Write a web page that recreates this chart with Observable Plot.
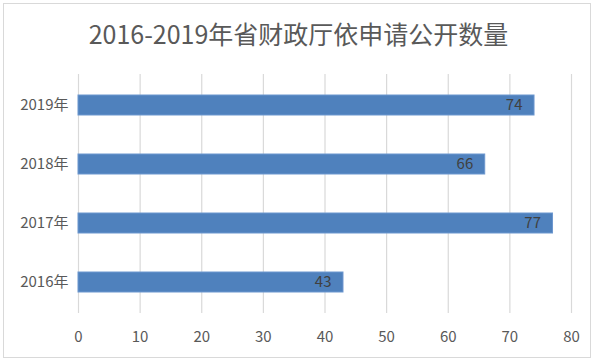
<!DOCTYPE html>
<html>
<head>
<meta charset="utf-8">
<script src="https://cdn.jsdelivr.net/npm/d3@7"></script>
<script src="https://cdn.jsdelivr.net/npm/@observablehq/plot@0.6"></script>
<style>
  body { margin: 0; background: #fff; }
  #wrap { position: relative; width: 597px; height: 362px; overflow: hidden; font-family: "Noto Sans CJK SC", "Open Sans", sans-serif; }
  #frame { position: absolute; left: 3px; top: 3px; width: 588px; height: 355px; border: 1px solid #d9d9d9; box-sizing: border-box; }
  #title { position: absolute; left: 0; width: 597px; top: 15px; text-align: center; font-size: 25px; color: #595959; line-height: 36px; }
  #chart { position: absolute; left: 0; top: 60px; }
</style>
</head>
<body>
<div id="wrap">
  <div id="frame"></div>
  <div id="title">2016-2019年省财政厅依申请公开数量</div>
  <div id="chart"></div>
</div>
<script>
const categories = ["2019年", "2018年", "2017年", "2016年"];
const values = [74, 66, 77, 43];
const xTicks = [0, 10, 20, 30, 40, 50, 60, 70, 80];

const data = categories.map((c, i) => ({ year: c, value: values[i] }));

const chart = Plot.plot({
  width: 597,
  height: 302,
  marginTop: 14,
  marginBottom: 49,
  marginLeft: 78,
  marginRight: 26,
  style: { fontFamily: "'Noto Sans CJK SC', 'Open Sans', sans-serif", fontSize: "14px", color: "#595959", background: "transparent" },
  x: { domain: [0, 80], ticks: xTicks, label: null },
  y: { domain: categories, paddingInner: 0.667, paddingOuter: 0.333, label: null },
  axis: null,
  marks: [
    Plot.ruleX(xTicks, { stroke: "#d9d9d9", strokeWidth: 1.2 }),
    Plot.barX(data, { y: "year", x: "value", fill: "#4f81bd", stroke: "#6d97cf", strokeWidth: 1 }),
    Plot.text(data, { y: "year", x: "value", text: d => String(d.value), textAnchor: "end", dx: -12, fill: "#404040", fontSize: 15 }),
    Plot.axisX({ ticks: xTicks, tickSize: 0, tickPadding: 18, fontSize: 15, color: "#595959" }),
    Plot.axisY({ tickSize: 0, tickPadding: 10, fontSize: 15, color: "#595959" })
  ]
});
document.getElementById("chart").appendChild(chart);
</script>
</body>
</html>
